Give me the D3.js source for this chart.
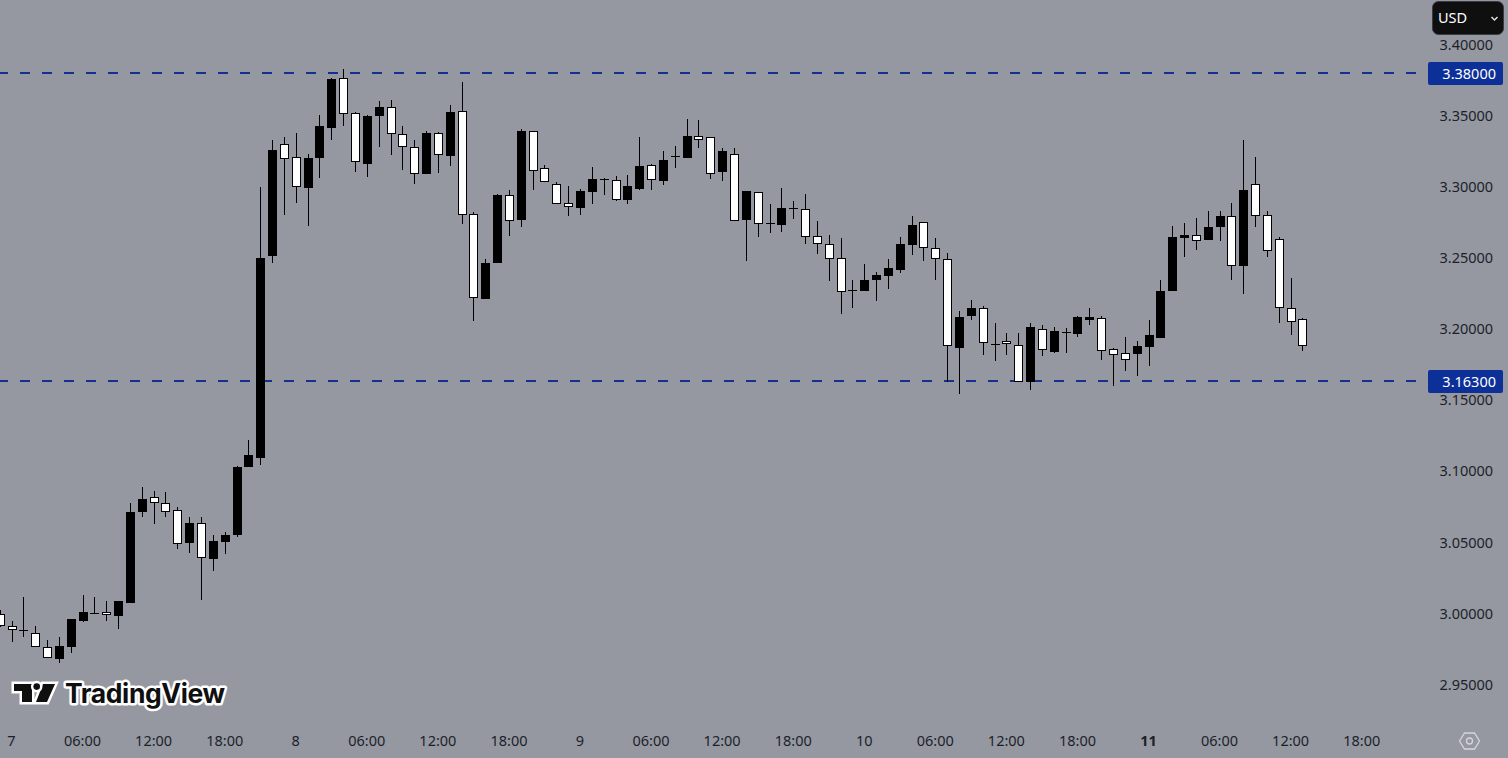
<!DOCTYPE html>
<html>
<head>
<meta charset="utf-8">
<script src="https://cdn.jsdelivr.net/npm/d3@7"></script>
<style>
  html, body { margin: 0; padding: 0; background: #9598a1; overflow: hidden; }
  text { font-family: "Noto Sans", sans-serif; }
</style>
</head>
<body>
<div id="chart"></div>
<script>
const firstHour = -1; // first candle, in hours from the 7th 00:00

const opens = [2.9994,2.9910,2.9882,2.9861,2.9762,2.9680,2.9764,2.9947,3.0006,3.0008,2.9985,3.0074,3.0714,3.0817,3.0775,3.0726,3.0498,3.0634,3.0385,3.0505,3.0552,3.1030,3.1094,3.2516,3.3300,3.3208,3.2994,3.3205,3.3416,3.3764,3.3518,3.3163,3.3501,3.3560,3.3370,3.3278,3.3093,3.3377,3.3219,3.3532,3.2807,3.2214,3.2467,3.2941,3.2767,3.3391,3.3131,3.3018,3.2885,3.2852,3.2964,3.3053,3.3046,3.2908,3.2985,3.3152,3.3041,3.3215,3.3203,3.3356,3.3349,3.3105,3.3229,3.2767,3.2962,3.2744,3.2734,3.2850,3.2842,3.2653,3.2596,3.2498,3.2273,3.2270,3.2347,3.2376,3.2418,3.2594,3.2751,3.2568,3.2491,3.1869,3.2094,3.2146,3.1893,3.1913,3.1886,3.1630,3.1999,3.1839,3.1977,3.1966,3.2064,3.2076,3.1858,3.1830,3.1825,3.1874,3.1937,3.2268,3.2641,3.2660,3.2627,3.2718,3.2793,3.2444,3.3018,3.2800,3.2632,3.2146,3.2069];
const highs = [3.0025,2.9945,3.0116,2.9912,2.9814,2.9835,2.9961,3.0130,3.0116,3.0088,3.0088,3.0777,3.0890,3.0861,3.0854,3.0747,3.0677,3.0677,3.0550,3.0571,3.1037,3.1220,3.2999,3.3330,3.3349,3.3379,3.3231,3.3506,3.3766,3.3829,3.3527,3.3506,3.3604,3.3611,3.3430,3.3330,3.3393,3.3386,3.3576,3.3738,3.2821,3.2491,3.2950,3.2978,3.3407,3.3393,3.3154,3.3032,3.3006,3.2985,3.3140,3.3063,3.3075,3.3084,3.3351,3.3161,3.3252,3.3288,3.3477,3.3470,3.3351,3.3274,3.3274,3.2971,3.2964,3.2880,3.2992,3.2901,3.2950,3.2758,3.2660,3.2641,3.2345,3.2458,3.2402,3.2493,3.2648,3.2795,3.2753,3.2639,3.2533,3.2125,3.2203,3.2160,3.2041,3.1973,3.1973,3.2043,3.2029,3.2015,3.2008,3.2092,3.2148,3.2092,3.1865,3.1944,3.1916,3.2064,3.2345,3.2725,3.2746,3.2781,3.2830,3.2830,3.2887,3.3330,3.3210,3.2830,3.2646,3.2357,3.2076];
const lows = [2.9905,2.9802,2.9837,2.9767,2.9689,2.9654,2.9724,2.9940,3.0001,2.9947,2.9893,3.0074,3.0679,3.0632,3.0679,3.0456,3.0428,3.0097,3.0301,3.0421,3.0540,3.1028,3.1044,3.2467,3.2804,3.2889,3.2727,3.3065,3.3332,3.3430,3.3107,3.3072,3.3283,3.3226,3.3121,3.3023,3.3093,3.3100,3.3149,3.2741,3.2059,3.2214,3.2467,3.2657,3.2720,3.2980,3.3037,3.2882,3.2795,3.2802,3.2880,3.2943,3.2901,3.2880,3.2978,3.2978,3.3013,3.3133,3.3203,3.3274,3.3056,3.3041,3.2762,3.2479,3.2650,3.2678,3.2683,3.2774,3.2601,3.2530,3.2340,3.2108,3.2150,3.2270,3.2200,3.2284,3.2397,3.2523,3.2481,3.2347,3.1628,3.1541,3.2066,3.1820,3.1778,3.1818,3.1630,3.1572,3.1811,3.1832,3.1832,3.1944,3.2029,3.1783,3.1600,3.1705,3.1670,3.1741,3.1937,3.2268,3.2507,3.2556,3.2627,3.2620,3.2345,3.2247,3.2718,3.2509,3.2045,3.1961,3.1848];
const closes = [2.9910,2.9882,2.9882,2.9767,2.9689,2.9771,2.9961,3.0011,3.0006,2.9992,3.0088,3.0714,3.0805,3.0775,3.0716,3.0487,3.0634,3.0388,3.0508,3.0550,3.1030,3.1115,3.2500,3.3259,3.3198,3.2997,3.3203,3.3428,3.3759,3.3511,3.3173,3.3499,3.3562,3.3370,3.3283,3.3093,3.3379,3.3226,3.3527,3.2800,3.2217,3.2463,3.2943,3.2758,3.3393,3.3114,3.3037,3.2882,3.2861,3.2971,3.3056,3.3053,3.2910,3.3006,3.3147,3.3051,3.3189,3.3215,3.3358,3.3332,3.3093,3.3252,3.2762,3.2971,3.2736,3.2744,3.2852,3.2850,3.2650,3.2596,3.2495,3.2263,3.2273,3.2345,3.2380,3.2430,3.2598,3.2732,3.2568,3.2495,3.1879,3.2083,3.2146,3.1900,3.1893,3.1892,3.1630,3.2015,3.1855,3.1987,3.1977,3.2085,3.2085,3.1848,3.1820,3.1785,3.1881,3.1959,3.2268,3.2648,3.2662,3.2622,3.2718,3.2795,3.2446,3.2978,3.2797,3.2551,3.2150,3.2052,3.1883];

const priceTicks = [2.95, 3.0, 3.05, 3.1, 3.15, 3.2, 3.25, 3.3, 3.35, 3.4];
const levels = [3.38, 3.163];
const timeTickHours = [0, 6, 12, 18, 24, 30, 36, 42, 48, 54, 60, 66, 72, 78, 84, 90, 96, 102, 108, 114];
const timeTickLabels = ["7", "06:00", "12:00", "18:00", "8", "06:00", "12:00", "18:00", "9", "06:00", "12:00", "18:00", "10", "06:00", "12:00", "18:00", "11", "06:00", "12:00", "18:00"];

const width = 1508;
const height = 758;
const background = "#9598a1";
const textColor = "#1c1f2a";
const levelColor = "#12308e";

const svg = d3
  .select("#chart")
  .append("svg")
  .attr("width", width)
  .attr("height", height)
  .style("display", "block");

const x = d3.scaleLinear().domain([0, 96]).range([12, 1149]);
const y = d3.scaleLinear().domain([2.95, 3.4]).range([684.6, 44.7]);

const levelY = (d) => Math.floor(y(d));
const bodyTop = (i) => Math.round(y(Math.max(opens[i], closes[i])));
const bodyHeight = (i) => Math.max(1, Math.round(y(Math.min(opens[i], closes[i]))) - bodyTop(i));

// level lines sit under the candles
svg
  .selectAll(".level")
  .data(levels)
  .enter()
  .append("line")
  .attr("class", "level")
  .attr("x1", 0)
  .attr("x2", 1420)
  .attr("y1", levelY)
  .attr("y2", levelY)
  .attr("stroke", levelColor)
  .attr("stroke-width", 2)
  .attr("stroke-dasharray", "10 12")
  .attr("stroke-dashoffset", 2);

// candles
const candles = svg
  .selectAll(".candle")
  .data(d3.range(opens.length))
  .enter()
  .append("g")
  .attr("class", "candle")
  .attr("transform", (i) => `translate(${Math.floor(x(firstHour + i))},0)`);

candles
  .append("rect")
  .attr("x", 0)
  .attr("width", 1)
  .attr("y", (i) => Math.round(y(highs[i])))
  .attr("height", (i) => Math.max(1, Math.round(y(lows[i])) - Math.round(y(highs[i]))))
  .attr("fill", "#000");

candles
  .append("rect")
  .attr("x", -4)
  .attr("width", 9)
  .attr("y", bodyTop)
  .attr("height", bodyHeight)
  .attr("fill", "#000");

// white fill for falling candles, leaves a 1px black border
candles
  .filter((i) => closes[i] < opens[i])
  .append("rect")
  .attr("x", -3)
  .attr("width", 7)
  .attr("y", (i) => bodyTop(i) + 1)
  .attr("height", (i) => Math.max(1, bodyHeight(i) - 2))
  .attr("fill", "#fff");

// price axis
const yAxis = svg
  .append("g")
  .attr("transform", "translate(1439.5,0)")
  .call(d3.axisRight(y).tickValues(priceTicks).tickSize(0).tickPadding(0).tickFormat(d3.format(".5f")));
yAxis.select(".domain").remove();
yAxis.selectAll("text").attr("fill", textColor).style("font-size", "14.5px").style("font-family", '"Noto Sans", sans-serif');

// time axis
const xAxis = svg
  .append("g")
  .attr("transform", "translate(-1,736)")
  .call(
    d3
      .axisBottom(x)
      .tickValues(timeTickHours)
      .tickSize(0)
      .tickPadding(0)
      .tickFormat((d, i) => timeTickLabels[i])
  );
xAxis.select(".domain").remove();
xAxis
  .selectAll("text")
  .attr("fill", textColor)
  .style("font-size", "14.5px")
  .style("font-family", '"Noto Sans", sans-serif')
  .style("font-weight", (d) => (d === 96 ? 700 : 400));

// level badges
const badges = svg.selectAll(".badge").data(levels).enter().append("g").attr("class", "badge");
badges
  .append("rect")
  .attr("x", 1428)
  .attr("y", (d) => levelY(d) - 11)
  .attr("width", 75)
  .attr("height", 23)
  .attr("rx", 2)
  .attr("fill", "#0c2f98");
badges
  .append("text")
  .attr("x", 1496)
  .attr("y", (d) => levelY(d) + 6)
  .attr("text-anchor", "end")
  .attr("fill", "#fff")
  .style("font-size", "14.5px")
  .text((d) => d3.format(".5f")(d));

// currency button, the 3.40000 label is cut off just under it
svg
  .append("rect")
  .attr("x", 1430)
  .attr("y", 0)
  .attr("width", 78)
  .attr("height", 40)
  .attr("fill", background);
svg
  .append("rect")
  .attr("x", 1432.5)
  .attr("y", 1.5)
  .attr("width", 71)
  .attr("height", 33)
  .attr("rx", 6)
  .attr("fill", "#0f0f0f")
  .attr("stroke", "#3a3b40");
svg
  .append("text")
  .attr("x", 1438)
  .attr("y", 23)
  .attr("fill", "#fff")
  .style("font-size", "14.5px")
  .text("USD");
svg
  .append("path")
  .attr("d", "M1491.5 17l3 3l3 -3")
  .attr("fill", "none")
  .attr("stroke", "#e0e0e0")
  .attr("stroke-width", 1.5);

// watermark
const logo = svg.append("g");
logo
  .append("path")
  .attr("d", "M14 684h18v18h-10v-11h-8z M43 684h12l-8 18h-11z")
  .attr("fill", "#0f0f0f")
  .attr("stroke", "#fff")
  .attr("stroke-width", 5)
  .attr("paint-order", "stroke");
logo
  .append("circle")
  .attr("cx", 36.7)
  .attr("cy", 686.6)
  .attr("r", 3.3)
  .attr("fill", "#0f0f0f")
  .attr("stroke", "#fff")
  .attr("stroke-width", 5)
  .attr("paint-order", "stroke");
logo
  .append("text")
  .attr("x", 65)
  .attr("y", 703)
  .attr("fill", "#0f0f0f")
  .attr("stroke", "#fff")
  .attr("stroke-width", 5)
  .attr("stroke-linejoin", "round")
  .attr("paint-order", "stroke")
  .style("font-family", "Inter, sans-serif")
  .style("font-weight", 700)
  .style("font-size", "26.5px")
  .style("letter-spacing", "-0.4px")
  .text("TradingView");

// settings icon on the time axis
svg
  .append("path")
  .attr("d", "M1459.5 741l5 -8h10l5 8l-5 8h-10z")
  .attr("fill", "none")
  .attr("stroke", "#d5d6db")
  .attr("stroke-width", 1.3);
svg
  .append("circle")
  .attr("cx", 1469.5)
  .attr("cy", 741)
  .attr("r", 3)
  .attr("fill", "none")
  .attr("stroke", "#d5d6db")
  .attr("stroke-width", 1.3);
</script>
</body>
</html>
